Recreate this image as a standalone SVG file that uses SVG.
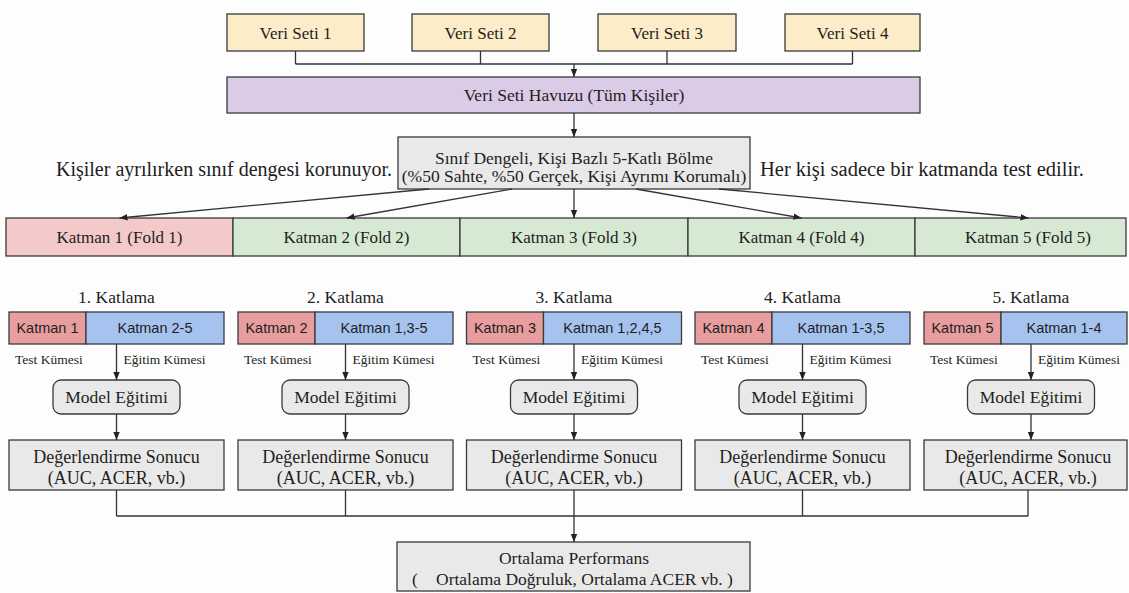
<svg xmlns="http://www.w3.org/2000/svg" width="1129" height="593" viewBox="0 0 1129 593">
  <defs>
    <marker id="arr" viewBox="0 0 10 10" refX="10" refY="5" markerWidth="8" markerHeight="8" markerUnits="userSpaceOnUse" orient="auto">
      <path d="M0,1 L10,5 L0,9 z" fill="#222"/>
    </marker>
    <style>
      .box { stroke: #3a3a3a; stroke-width: 1.3; }
      .src { fill: #fcecc8; }
      .pool { fill: #dccbe6; }
      .gray { fill: #e9e9e9; }
      .pink { fill: #f3c9ca; }
      .green { fill: #d6ead3; }
      .red { fill: #e89e9e; }
      .blue { fill: #a6c3f0; }
      .t { font-family: "Liberation Serif", "Times New Roman", serif; fill: #1e1e1e; }
      .s { font-family: "Liberation Sans", Arial, sans-serif; fill: #1e1e1e; font-size: 14.5px; }
      .c { text-anchor: middle; }
      .f17 { font-size: 17px; }
      .f175 { font-size: 17.5px; }
      .f18 { font-size: 18px; }
      .small { font-size: 13.5px; }
      .ln { stroke: #333; stroke-width: 1.3; fill: none; }
      .ar { stroke: #333; stroke-width: 1.3; fill: none; marker-end: url(#arr); }
    </style>
  </defs>
  <rect width="1129" height="593" fill="#fdfdfd"/>

  <!-- source datasets -->
  <g id="veri-seti-1"><rect class="box src" x="227" y="14" width="137" height="37"/><text class="t c f17" x="295.5" y="38.5">Veri Seti 1</text></g>
  <g id="veri-seti-2"><rect class="box src" x="412" y="14" width="137" height="37"/><text class="t c f17" x="480.5" y="38.5">Veri Seti 2</text></g>
  <g id="veri-seti-3"><rect class="box src" x="598" y="14" width="138" height="37"/><text class="t c f17" x="667" y="38.5">Veri Seti 3</text></g>
  <g id="veri-seti-4"><rect class="box src" x="785" y="14" width="135" height="37"/><text class="t c f17" x="852.5" y="38.5">Veri Seti 4</text></g>

  <!-- pooled data -->
  <g id="havuz"><rect class="box pool" x="227" y="77" width="693" height="36"/><text class="t c f175" x="574" y="101">Veri Seti Havuzu (Tüm Kişiler)</text></g>

  <!-- splitting step -->
  <g id="bolme">
    <rect class="box gray" x="398" y="137" width="352" height="52"/>
    <text class="t c f175" x="574" y="164">Sınıf Dengeli, Kişi Bazlı 5-Katlı Bölme</text>
    <text class="t c f175" x="574" y="182">(%50 Sahte, %50 Gerçek, Kişi Ayrımı Korumalı)</text>
  </g>
  <g id="not-sol"><text class="t" x="392" y="176" font-size="20" text-anchor="end">Kişiler ayrılırken sınıf dengesi korunuyor.</text></g>
  <g id="not-sag"><text class="t" x="760" y="176" font-size="20.5">Her kişi sadece bir katmanda test edilir.</text></g>

  <!-- folds row -->
  <g id="katman-1"><rect class="box pink" x="6" y="218" width="227" height="38"/><text class="t c f17" x="119.5" y="243">Katman 1 (Fold 1)</text></g>
  <g id="katman-2"><rect class="box green" x="233" y="218" width="227" height="38"/><text class="t c f17" x="346.5" y="243">Katman 2 (Fold 2)</text></g>
  <g id="katman-3"><rect class="box green" x="460" y="218" width="228" height="38"/><text class="t c f17" x="574" y="243">Katman 3 (Fold 3)</text></g>
  <g id="katman-4"><rect class="box green" x="688" y="218" width="227" height="38"/><text class="t c f17" x="801.5" y="243">Katman 4 (Fold 4)</text></g>
  <g id="katman-5"><rect class="box green" x="915" y="218" width="211" height="38"/><text class="t c f17" x="1028" y="243">Katman 5 (Fold 5)</text></g>

  <!-- iteration 1 -->
  <g id="katlama-1">
    <text class="t c f175" x="116.5" y="303">1. Katlama</text>
    <rect class="box red" x="9" y="312" width="77" height="32"/>
    <rect class="box blue" x="86" y="312" width="138" height="32"/>
    <text class="s c" x="47.5" y="333">Katman 1</text>
    <text class="s c" x="155" y="333">Katman 2-5</text>
    <text class="t small" x="15" y="364">Test Kümesi</text>
    <text class="t small" x="123.5" y="364">Eğitim Kümesi</text>
  </g>
  <g id="model-1"><rect class="box gray" x="53" y="380" width="127" height="34" rx="8"/><text class="t c f175" x="116.5" y="403">Model Eğitimi</text></g>
  <g id="sonuc-1"><rect class="box gray" x="9" y="440" width="215" height="50"/><text class="t c f18" x="116.5" y="463">Değerlendirme Sonucu</text><text class="t c f18" x="116.5" y="484">(AUC, ACER, vb.)</text></g>

  <!-- iteration 2 -->
  <g id="katlama-2">
    <text class="t c f175" x="345.5" y="303">2. Katlama</text>
    <rect class="box red" x="238" y="312" width="77" height="32"/>
    <rect class="box blue" x="315" y="312" width="138" height="32"/>
    <text class="s c" x="276.5" y="333">Katman 2</text>
    <text class="s c" x="384" y="333">Katman 1,3-5</text>
    <text class="t small" x="244" y="364">Test Kümesi</text>
    <text class="t small" x="352.5" y="364">Eğitim Kümesi</text>
  </g>
  <g id="model-2"><rect class="box gray" x="282" y="380" width="127" height="34" rx="8"/><text class="t c f175" x="345.5" y="403">Model Eğitimi</text></g>
  <g id="sonuc-2"><rect class="box gray" x="238" y="440" width="215" height="50"/><text class="t c f18" x="345.5" y="463">Değerlendirme Sonucu</text><text class="t c f18" x="345.5" y="484">(AUC, ACER, vb.)</text></g>

  <!-- iteration 3 -->
  <g id="katlama-3">
    <text class="t c f175" x="574" y="303">3. Katlama</text>
    <rect class="box red" x="466.5" y="312" width="77" height="32"/>
    <rect class="box blue" x="543.5" y="312" width="138" height="32"/>
    <text class="s c" x="505" y="333">Katman 3</text>
    <text class="s c" x="612.5" y="333">Katman 1,2,4,5</text>
    <text class="t small" x="472.5" y="364">Test Kümesi</text>
    <text class="t small" x="581" y="364">Eğitim Kümesi</text>
  </g>
  <g id="model-3"><rect class="box gray" x="510.5" y="380" width="127" height="34" rx="8"/><text class="t c f175" x="574" y="403">Model Eğitimi</text></g>
  <g id="sonuc-3"><rect class="box gray" x="466.5" y="440" width="215" height="50"/><text class="t c f18" x="574" y="463">Değerlendirme Sonucu</text><text class="t c f18" x="574" y="484">(AUC, ACER, vb.)</text></g>

  <!-- iteration 4 -->
  <g id="katlama-4">
    <text class="t c f175" x="802.5" y="303">4. Katlama</text>
    <rect class="box red" x="695" y="312" width="77" height="32"/>
    <rect class="box blue" x="772" y="312" width="138" height="32"/>
    <text class="s c" x="733.5" y="333">Katman 4</text>
    <text class="s c" x="841" y="333">Katman 1-3,5</text>
    <text class="t small" x="701" y="364">Test Kümesi</text>
    <text class="t small" x="809.5" y="364">Eğitim Kümesi</text>
  </g>
  <g id="model-4"><rect class="box gray" x="739" y="380" width="127" height="34" rx="8"/><text class="t c f175" x="802.5" y="403">Model Eğitimi</text></g>
  <g id="sonuc-4"><rect class="box gray" x="695" y="440" width="215" height="50"/><text class="t c f18" x="802.5" y="463">Değerlendirme Sonucu</text><text class="t c f18" x="802.5" y="484">(AUC, ACER, vb.)</text></g>

  <!-- iteration 5 -->
  <g id="katlama-5">
    <text class="t c f175" x="1031" y="303">5. Katlama</text>
    <rect class="box red" x="924" y="312" width="77" height="32"/>
    <rect class="box blue" x="1001" y="312" width="126" height="32"/>
    <text class="s c" x="962.5" y="333">Katman 5</text>
    <text class="s c" x="1064" y="333">Katman 1-4</text>
    <text class="t small" x="930" y="364">Test Kümesi</text>
    <text class="t small" x="1038" y="364">Eğitim Kümesi</text>
  </g>
  <g id="model-5"><rect class="box gray" x="967.5" y="380" width="127" height="34" rx="8"/><text class="t c f175" x="1031" y="403">Model Eğitimi</text></g>
  <g id="sonuc-5"><rect class="box gray" x="924" y="440" width="203" height="50"/><text class="t c f18" x="1028" y="463">Değerlendirme Sonucu</text><text class="t c f18" x="1028" y="484">(AUC, ACER, vb.)</text></g>

  <!-- averaged result -->
  <g id="ortalama">
    <rect class="box gray" x="397" y="542" width="353" height="49"/>
    <text class="t c f175" x="574" y="564">Ortalama Performans</text>
    <text class="t f175" y="585"><tspan x="412">(</tspan><tspan x="436">Ortalama Doğruluk, Ortalama ACER vb. )</tspan></text>
  </g>

  <!-- connectors -->
  <g id="connectors">
    <path class="ln" d="M295.5,51 V64 M480.5,51 V64 M667,51 V64 M852.5,51 V64 M295.5,64 H852.5"/>
    <path class="ar" d="M574,64 V77"/>
    <path class="ar" d="M574,113 V137"/>
    <path class="ar" d="M429,189 L119.5,218"/>
    <path class="ar" d="M512,189 L346.5,218"/>
    <path class="ar" d="M574,189 V218"/>
    <path class="ar" d="M636,189 L801.5,218"/>
    <path class="ar" d="M719,189 L1028.5,218"/>

    <path class="ar" d="M116.5,344 V380"/>
    <path class="ar" d="M345.5,344 V380"/>
    <path class="ar" d="M574,344 V380"/>
    <path class="ar" d="M802.5,344 V380"/>
    <path class="ar" d="M1031,344 V380"/>

    <path class="ar" d="M116.5,414 V440"/>
    <path class="ar" d="M345.5,414 V440"/>
    <path class="ar" d="M574,414 V440"/>
    <path class="ar" d="M802.5,414 V440"/>
    <path class="ar" d="M1031,414 V440"/>

    <path class="ln" d="M116.5,490 V516 M345.5,490 V516 M574,490 V516 M802.5,490 V516 M1028,490 V516 M116.5,516 H1028"/>
    <path class="ar" d="M574,516 V542"/>
  </g>
</svg>
